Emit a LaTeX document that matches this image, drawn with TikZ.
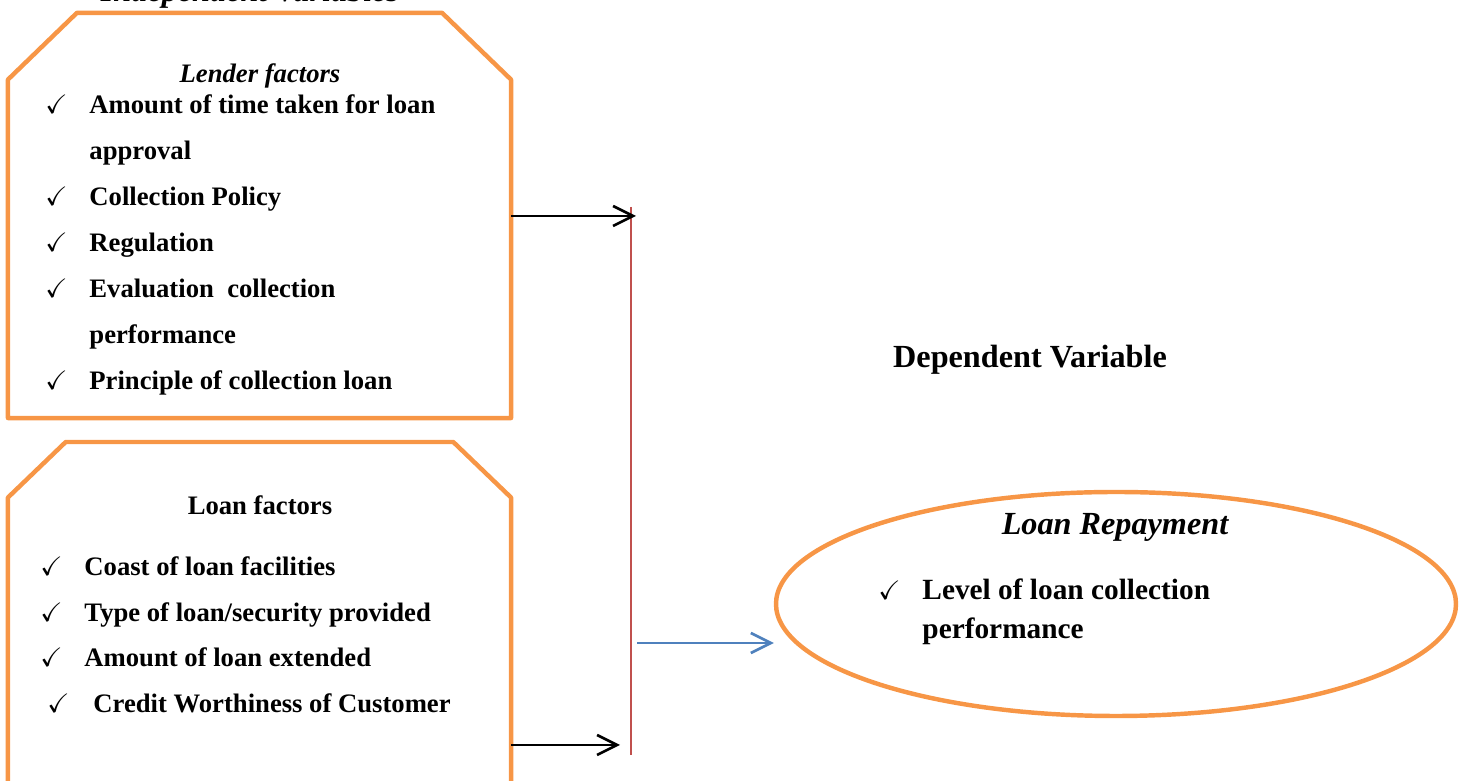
\documentclass[tikz,border=0pt]{standalone}
\usepackage{amssymb}
\usepackage{fontspec}
\setmainfont{Liberation Serif}
\usetikzlibrary{arrows.meta,shapes.geometric,positioning}
\definecolor{boxorange}{HTML}{F79646}
\definecolor{barred}{HTML}{C0504D}
\definecolor{linkblue}{HTML}{4F81BD}

\begin{document}
\begin{tikzpicture}[x=0.45pt, y=-0.45pt, >={Straight Barb[length=9pt,width=9pt]},
factorbox/.style = {rectangle, minimum width=226.4pt, inner sep=0pt, outer sep=0pt},
outline/.style = {draw=boxorange, line width=2pt, line join=round},
item/.style = {anchor=base west, inner sep=0pt, font=\fontsize{12}{14}\selectfont\bfseries},
tick/.style = {anchor=base west, inner sep=0pt, font=\fontsize{12}{14}\selectfont},
head/.style = {anchor=base, inner sep=0pt, font=\fontsize{12}{14}\selectfont\bfseries},
bighead/.style = {anchor=base, inner sep=0pt, font=\fontsize{14.5}{17}\selectfont\bfseries},
link/.style = {line width=1.2pt, ->},
                    ]
    \clip (0,0) rectangle (1463,781);
    \node [bighead] at (250,2)           (indep){\itshape Independent Variables};
    % lender factors
    \node [factorbox, minimum height=182.3pt] at (259.5,215.5) (lender){};
    \draw[outline] ([yshift=-30pt]lender.north west) -- ([xshift=31pt]lender.north west)
                -- ([xshift=-31pt]lender.north east) -- ([yshift=-30pt]lender.north east)
                -- (lender.south east) -- (lender.south west) -- cycle;
    \node [head] at (260,83)             (lendhead){\itshape Lender factors};
    \node [item] at (89,114)             (lend1){Amount of time taken for loan};
    \node [item] at (89,160)             (lend1b){approval};
    \node [item] at (89,206)             (lend2){Collection Policy};
    \node [item] at (89,252)             (lend3){Regulation};
    \node [item] at (89,298)             (lend4){Evaluation\ \ collection};
    \node [item] at (89,344)             (lend4b){performance};
    \node [item] at (89,390)             (lend5){Principle of collection loan};
    \foreach \y in {114,206,252,298,390}
        \node [tick] at (45,\y) (lendtick\y){$\checkmark$};
    % loan factors
    \node [factorbox, minimum height=161.1pt] at (259.5,621) (loan){};
    \draw[outline] ([yshift=-25pt]loan.north west) -- ([xshift=26pt]loan.north west)
                -- ([xshift=-26pt]loan.north east) -- ([yshift=-25pt]loan.north east)
                -- (loan.south east) -- (loan.south west) -- cycle;
    \node [head] at (260,515)            (loanhead){Loan factors};
    \node [item] at (84,576)             (loan1){Coast of loan facilities};
    \node [item] at (84,622)             (loan2){Type of loan/security provided};
    \node [item] at (84,667)             (loan3){Amount of loan extended};
    \node [item] at (93,713)             (loan4){Credit Worthiness of Customer};
    \foreach \y in {576,622,667}
        \node [tick] at (40,\y) (loantick\y){$\checkmark$};
    \node [tick] at (47,713)             (loantick713){$\checkmark$};
    % dependent variable
    \node [bighead] at (1030,368)        (dep){Dependent Variable};
    \node [draw=boxorange, line width=2pt, ellipse, minimum width=306pt, minimum height=100.8pt] at (1116,604) (repay){};
    \node [bighead] at (1115,535)        (repayhead){\itshape Loan Repayment};
    \node [tick] at (878,600)            (repaytick){$\checkmark$};
    \node [item, font=\fontsize{13.2}{15}\selectfont\bfseries] at (922,600) (repay1){Level of loan collection};
    \node [item, font=\fontsize{13.2}{15}\selectfont\bfseries] at (922,639) (repay1b){performance};
    % connectors
    \coordinate (bartop) at (631,207);
    \coordinate (barbot) at (631,755);
    \coordinate (lendin) at (636,216);
    \coordinate (loanin) at (620,745);
    \coordinate (barout) at (637,643);
    \draw[barred, line width=0.9pt] (bartop) -- (barbot);
    \draw[link] (lender.east |- lendin) -- (lendin);
    \draw[link] (loan.east |- loanin) -- (loanin);
    \draw[link, linkblue] (barout) -- (repay.west |- barout);
\end{tikzpicture}
\end{document}
